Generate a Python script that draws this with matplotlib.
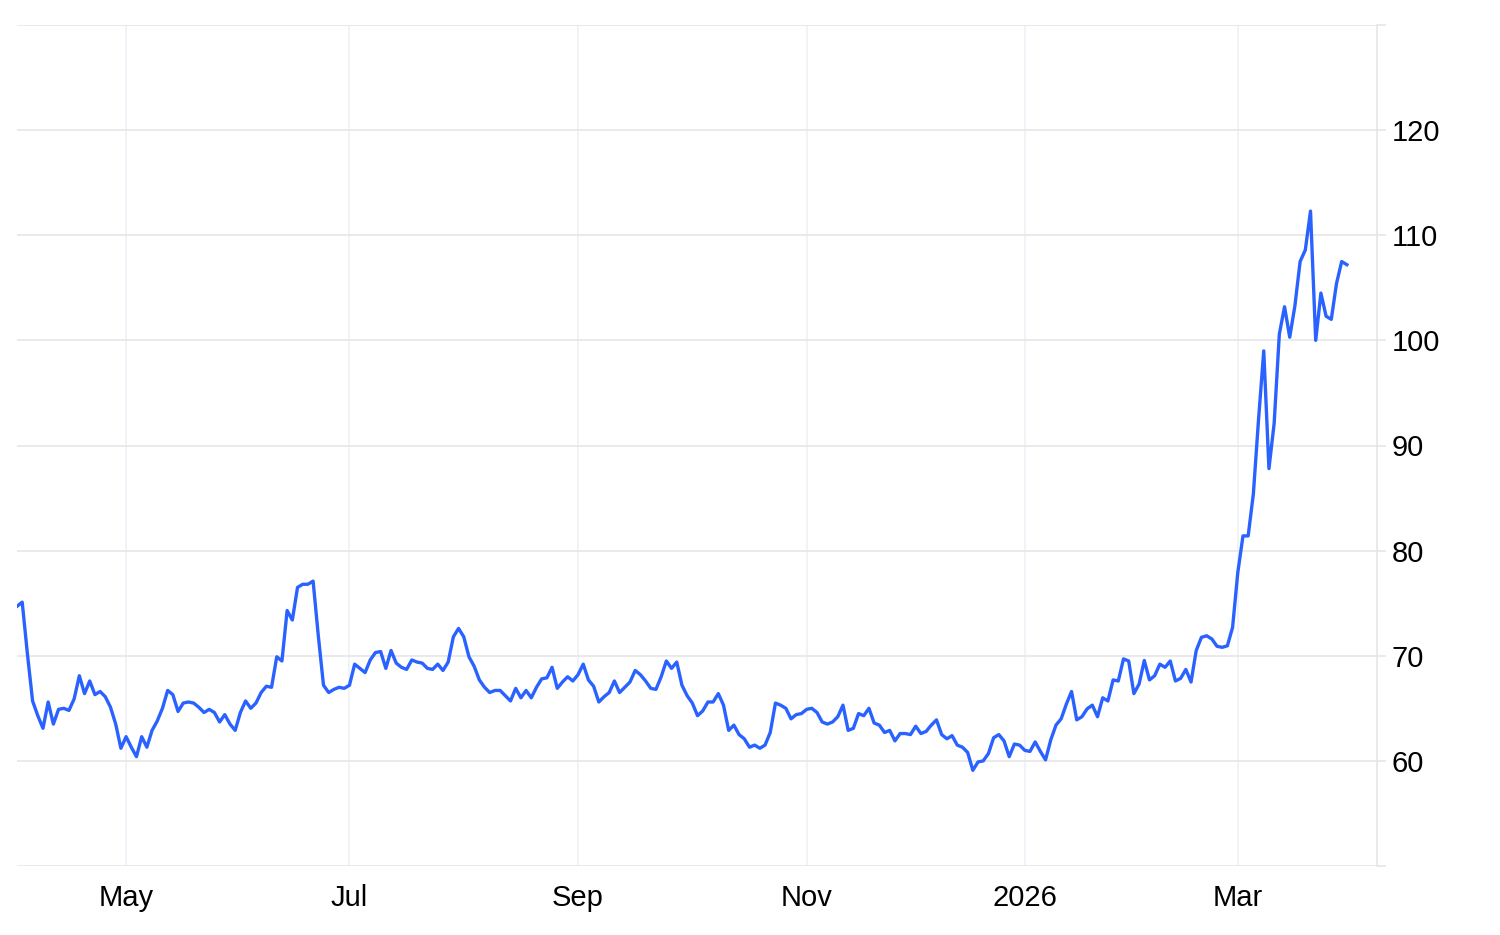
import numpy as np
import pandas as pd
import matplotlib
matplotlib.use('Agg')
import matplotlib.pyplot as plt

plt.rcParams['font.family'] = ['Liberation Sans', 'DejaVu Sans']

# daily closes (one value per trading day)
apr = [74.7, 75.1, 70.2, 65.7, 64.3, 63.1, 65.6, 63.5, 64.9, 65.0, 64.8, 65.9, 68.1, 66.4, 67.6, 66.3,
       66.6, 66.1, 65.1, 63.5, 61.2]
may_jun = [62.3, 61.3, 60.4, 62.3, 61.3, 62.9, 63.8, 65.0, 66.7, 66.3, 64.7,
           65.5, 65.6, 65.5, 65.1, 64.6, 64.9, 64.6, 63.7, 64.4, 63.5,
           62.9, 64.6, 65.7, 65.0, 65.5, 66.5, 67.1, 67.0, 69.9, 69.5,
           74.3, 73.4, 76.5, 76.8, 76.8, 77.1, 71.9, 67.2, 66.5, 66.8,
           67.0, 66.9]
jul_aug = [67.2, 69.2, 68.8, 68.4, 69.6, 70.3, 70.4, 68.8, 70.5, 69.3, 68.9,
           68.7, 69.6, 69.4, 69.3, 68.8, 68.7, 69.2, 68.6, 69.4, 71.8,
           72.6, 71.8, 69.9, 69.0, 67.7, 67.0, 66.5, 66.7, 66.7, 66.2,
           65.7, 66.9, 66.0, 66.7, 66.0, 67.0, 67.8, 67.9, 68.9, 66.9,
           67.5, 68.0, 67.6]
sep_oct = [68.2, 69.2, 67.7, 67.1, 65.6, 66.1, 66.5, 67.6, 66.5, 67.0, 67.5,
           68.6, 68.2, 67.6, 66.9, 66.8, 68.0, 69.5, 68.8, 69.4, 67.2,
           66.2, 65.5, 64.3, 64.75, 65.6, 65.6, 66.4, 65.3, 62.9, 63.4,
           62.5, 62.1, 61.3, 61.5, 61.2, 61.5, 62.7, 65.5, 65.3, 65.0,
           64.0, 64.4, 64.5]
nov_dec = [64.9, 65.0, 64.6, 63.7, 63.5, 63.7, 64.2, 65.3, 62.9, 63.1, 64.5,
           64.3, 65.0, 63.6, 63.4, 62.7, 62.9, 61.9, 62.6, 62.6, 62.5,
           63.3, 62.6, 62.8, 63.4, 63.9, 62.5, 62.1, 62.4, 61.5, 61.3,
           60.8, 59.1, 59.9, 60.0, 60.7, 62.2, 62.5, 61.9, 60.4, 61.6,
           61.5]
jan_feb = [61.0, 60.9, 61.8, 60.9, 60.1, 62.0, 63.4, 64.0, 65.4, 66.6, 63.9,
           64.2, 64.95, 65.3, 64.2, 66.0, 65.7, 67.7, 67.6, 69.7, 69.5,
           66.4, 67.3, 69.55, 67.7, 68.1, 69.2, 68.9, 69.5, 67.6, 67.85,
           68.7, 67.5, 70.5, 71.75, 71.9, 71.6, 70.9, 70.8, 70.95, 72.7]
mar = [77.9, 81.4, 81.4, 85.4, 92.5, 99.0, 87.8, 92.1, 100.6, 103.2, 100.3,
       103.3, 107.5, 108.6, 112.3, 100.0, 104.5, 102.3, 102.0, 105.4, 107.5,
       107.2]

price = apr + may_jun + jul_aug + sep_oct + nov_dec + jan_feb + mar

# weekdays with no close in the series
no_data_days = ['2025-04-18', '2025-10-13', '2025-12-25', '2026-01-01']
dates = pd.bdate_range('2025-04-01', periods=len(price), freq='C', holidays=no_data_days)

month_starts = ['2025-05-01', '2025-07-01', '2025-09-01', '2025-11-01', '2026-01-01', '2026-03-01']
month_labels = ['May', 'Jul', 'Sep', 'Nov', '2026', 'Mar']
y_ticks = [50, 60, 70, 80, 90, 100, 110, 120, 130]
y_labels = ['', '60', '70', '80', '90', '100', '110', '120', '']

# the x axis runs over trading days, not calendar days
x = np.arange(len(price))
tick_pos = [int(np.argmax(dates >= pd.Timestamp(m))) for m in month_starts]

fig = plt.figure(figsize=(15, 9.35), dpi=100)
ax = fig.add_axes([17 / 1500, 69 / 935, 1360 / 1500, 841 / 935])

ax.plot(x, price, color='#2962ff', lw=2.4, solid_joinstyle='round', zorder=3)

ax.set_xlim(0, len(price) - 1 + 5.8)
ax.set_ylim(50, 130)

ax.set_xticks(tick_pos)
ax.set_xticklabels(month_labels)
ax.set_yticks(y_ticks)
ax.set_yticklabels(y_labels)
ax.yaxis.tick_right()

ax.grid(axis='y', color='#e6e6e6', lw=1.2)
ax.grid(axis='x', color='#eef1f6', lw=1.2)
ax.set_axisbelow(True)

for side in ['left', 'top', 'bottom']:
    ax.spines[side].set_visible(False)
ax.spines['right'].set_color('#e6e6e6')
ax.spines['right'].set_linewidth(1.2)

ax.tick_params(axis='y', length=6.5, width=1.2, color='#e6e6e6', pad=4, labelsize=21)
ax.tick_params(axis='x', length=0, pad=13, labelsize=21)

fig.savefig('out.png', dpi=100, facecolor='white')
